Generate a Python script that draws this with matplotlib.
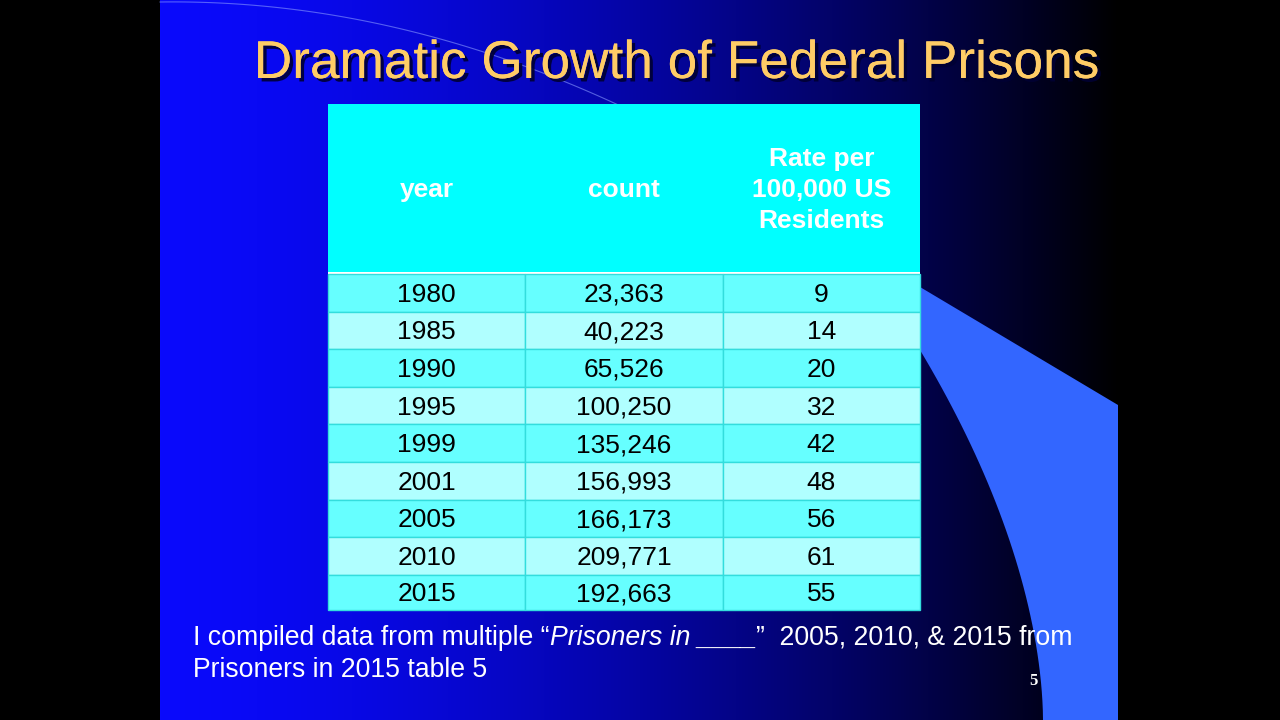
import matplotlib
matplotlib.use('Agg')
import matplotlib.pyplot as plt
import matplotlib.patheffects as pe
import matplotlib.transforms as mtrans
from matplotlib.patches import Rectangle, Polygon
import numpy as np

# table data
headers = ["year", "count", "Rate per\n100,000 US\nResidents"]
years = [1980, 1985, 1990, 1995, 1999, 2001, 2005, 2010, 2015]
counts = [23363, 40223, 65526, 100250, 135246, 156993, 166173, 209771, 192663]
rates = [9, 14, 20, 32, 42, 48, 56, 61, 55]

title = "Dramatic Growth of Federal Prisons"
note1_a = "I compiled data from multiple \u201c"
note1_b = "Prisoners in ____"
note1_c = "\u201d  2005, 2010, & 2015 from"
note2 = "Prisoners in 2015 table 5"

fig = plt.figure(figsize=(12.8, 7.2), dpi=100)
fig.patch.set_facecolor("black")
ax = fig.add_axes([0, 0, 1, 1])
ax.set_xlim(0, 1280)
ax.set_ylim(720, 0)
ax.axis("off")

# slide background gradient (bright blue -> black)
t = np.linspace(0, 1, 400)
blue = 252 * (1 - t ** 1.5)
rg = 10 * (1 - t)
grad = np.stack([rg, rg, blue], axis=-1)[None, :, :] / 255.0
ax.imshow(grad, extent=[160, 1120, 720, 0], aspect="auto", zorder=0)

# faint arc at the top left
dx = np.linspace(0, 500, 80)
ax.plot(160 + dx, 2 + 5.21e-4 * dx ** 2 - 0.0141 * dx, color="#8899ff", lw=0.8,
        alpha=0.6, zorder=1)

# blue swoosh on the right
cy = np.linspace(350, 720, 40)
cx = 920 + 123 * (1 - (1 - (cy - 350) / 370) ** 1.8)
pts = [(920, 287), (1118, 405), (1118, 720)] + list(zip(cx[::-1], cy[::-1]))
ax.add_patch(Polygon(pts, closed=True, facecolor="#3366ff", edgecolor="none", zorder=1))

# title
ax.text(677, 64, title, ha="center", va="center", fontsize=38.3, color="#ffcc66",
        family="Liberation Sans", zorder=5,
        path_effects=[pe.withSimplePatchShadow(offset=(2.5, -2.5), shadow_rgbFace="#000033", alpha=0.9),
                      pe.Normal()])

# table
x0, x1 = 328, 920
col_w = (x1 - x0) / 3
head_top, head_bot = 104, 272
row_top = 274
row_h = 37.6

ax.add_patch(Rectangle((x0, head_top), x1 - x0, head_bot - head_top,
                       facecolor="#00ffff", edgecolor="none", zorder=2))
ax.add_patch(Rectangle((x0, head_bot), x1 - x0, row_top - head_bot,
                       facecolor="white", edgecolor="none", zorder=2))
for j, h in enumerate(headers):
    ax.text(x0 + col_w * (j + 0.5), (head_top + head_bot) / 2 + 2, h, ha="center", va="center",
            fontsize=19, fontweight="bold", color="white", family="Liberation Sans",
            linespacing=1.38, zorder=4)

for i in range(len(years)):
    y = row_top + i * row_h
    h = row_h if i < len(years) - 1 else 610 - y
    fc = "#66ffff" if i % 2 == 0 else "#b0ffff"
    row_vals = [str(years[i]), f"{counts[i]:,}", str(rates[i])]
    for j, v in enumerate(row_vals):
        ax.add_patch(Rectangle((x0 + j * col_w, y), col_w, h, facecolor=fc,
                               edgecolor="#33dddd", lw=1, zorder=2))
        ax.text(x0 + col_w * (j + 0.5), y + h / 2 + 2, v, ha="center", va="center",
                fontsize=19, color="black", family="Liberation Sans", zorder=4)

# footnote
fs = 19.2
tx = ax.text(193, 638, note1_a, ha="left", va="center", fontsize=fs, color="white",
             family="Liberation Sans", zorder=5)
fig.canvas.draw()
r = fig.canvas.get_renderer()
blend = mtrans.blended_transform_factory(mtrans.IdentityTransform(), ax.transData)
bb = tx.get_window_extent(r)
tx2 = ax.text(bb.x1, 638, note1_b, ha="left", va="center", fontsize=fs, color="white",
              style="italic", family="Liberation Sans", zorder=5, transform=blend)
bb2 = tx2.get_window_extent(r)
ax.text(bb2.x1, 638, note1_c, ha="left", va="center", fontsize=fs, color="white",
        family="Liberation Sans", zorder=5, transform=blend)
ax.text(193, 670, note2, ha="left", va="center", fontsize=fs, color="white",
        family="Liberation Sans", zorder=5)

ax.text(1033, 681, "5", ha="center", va="center", fontsize=12, fontweight="bold",
        color="white", family="Liberation Serif", zorder=5)

fig.savefig("out.png", dpi=100, facecolor="black")
